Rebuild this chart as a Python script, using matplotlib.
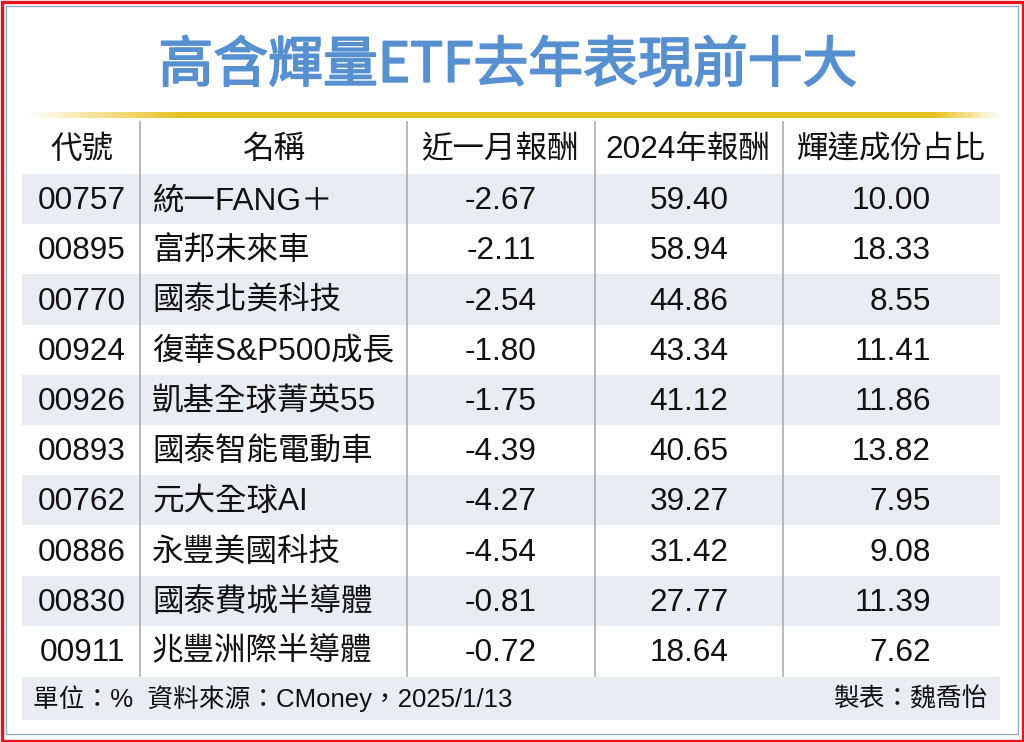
import matplotlib
matplotlib.use('Agg')
import matplotlib.pyplot as plt
import matplotlib.patheffects as pe
from matplotlib.patches import Rectangle
import numpy as np

title = "高含輝量ETF去年表現前十大"
headers = ["代號", "名稱", "近一月報酬", "2024年報酬", "輝達成份占比"]
codes = ["00757", "00895", "00770", "00924", "00926",
         "00893", "00762", "00886", "00830", "00911"]
names = ["統一FANG＋", "富邦未來車", "國泰北美科技", "復華S&P500成長", "凱基全球菁英55",
         "國泰智能電動車", "元大全球AI", "永豐美國科技", "國泰費城半導體", "兆豐洲際半導體"]
ret_1m = [-2.67, -2.11, -2.54, -1.80, -1.75, -4.39, -4.27, -4.54, -0.81, -0.72]
ret_2024 = [59.40, 58.94, 44.86, 43.34, 41.12, 40.65, 39.27, 31.42, 27.77, 18.64]
nvda_share = [10.00, 18.33, 8.55, 11.41, 11.86, 13.82, 7.95, 9.08, 11.39, 7.62]
footer_left = "單位：%  資料來源：CMoney，2025/1/13"
footer_right = "製表：魏喬怡"

FAM = ['Liberation Sans', 'Noto Sans CJK TC', 'DejaVu Sans']
plt.rcParams['font.family'] = FAM

W, H = 1024, 742
fig = plt.figure(figsize=(W / 100, H / 100), dpi=100)
ax = fig.add_axes([0, 0, 1, 1])
ax.set_xlim(0, W)
ax.set_ylim(H, 0)
ax.axis('off')

# frame
ax.add_patch(Rectangle((1.5, 1.5), W - 3, H - 3, fill=False, ec='#e8141c', lw=2.4))
ax.add_patch(Rectangle((6, 5.5), 1012, 728, fill=False, ec='#8fa3c4', lw=0.9))

# title
title_color = '#5790d1'
ax.text(508, 66, title, ha='center', va='center', fontsize=39.5, color=title_color,
        family=['Noto Sans CJK TC', 'DejaVu Sans'],
        path_effects=[pe.withStroke(linewidth=1.3, foreground=title_color)])

# gold gradient line
xs = np.linspace(0, 1, 600)
alpha = np.clip(np.minimum(xs / 0.16, (1 - xs) / 0.07), 0, 1)
grad = np.zeros((1, 600, 4))
grad[..., 0] = 0.91
grad[..., 1] = 0.76
grad[..., 2] = 0.12
grad[..., 3] = alpha
ax.imshow(grad, extent=[25, 1002, 118.5, 112.5], aspect='auto', interpolation='bilinear', zorder=2)

# table geometry
tab_left, tab_right = 22, 1000
head_top, row_top, row_h = 122, 174, 50.2
n = len(codes)
col_sep = [140, 407, 595, 783]

# row shading
for i in range(n):
    if i % 2 == 0:
        ax.add_patch(Rectangle((tab_left, row_top + i * row_h), tab_right - tab_left, row_h,
                               fc='#e9ecf1', ec='none', zorder=1))
foot_top = row_top + n * row_h + 1
ax.add_patch(Rectangle((tab_left, foot_top), tab_right - tab_left, 43,
                       fc='#e9ecf1', ec='none', zorder=1))

# vertical separators
for x in col_sep:
    ax.plot([x, x], [head_top, row_top + n * row_h], color='#a6a6a6', lw=1.1, zorder=3)

fs = 22.7
tc = '#111111'
head_x = [82, 274, 500, 688, 891]
head_y = 150
for x, h in zip(head_x, headers):
    ax.text(x, head_y, h, ha='center', va='center', fontsize=fs, color=tc, zorder=4)

for i in range(n):
    y = row_top + i * row_h + row_h / 2 + 2
    ax.text(82, y, codes[i], ha='center', va='center', fontsize=fs, color=tc, zorder=4)
    ax.text(152, y, names[i], ha='left', va='center', fontsize=fs, color=tc, zorder=4)
    ax.text(501, y, f"{ret_1m[i]:.2f}", ha='center', va='center', fontsize=fs, color=tc, zorder=4)
    ax.text(689, y, f"{ret_2024[i]:.2f}", ha='center', va='center', fontsize=fs, color=tc, zorder=4)
    ax.text(931, y, f"{nvda_share[i]:.2f}", ha='right', va='center', fontsize=fs, color=tc, zorder=4)

fy = foot_top + 22
ax.text(33, fy, footer_left, ha='left', va='center', fontsize=18.5, color=tc, zorder=4)
ax.text(988, fy, footer_right, ha='right', va='center', fontsize=18.5, color=tc, zorder=4)

fig.savefig('out.png', dpi=100)
